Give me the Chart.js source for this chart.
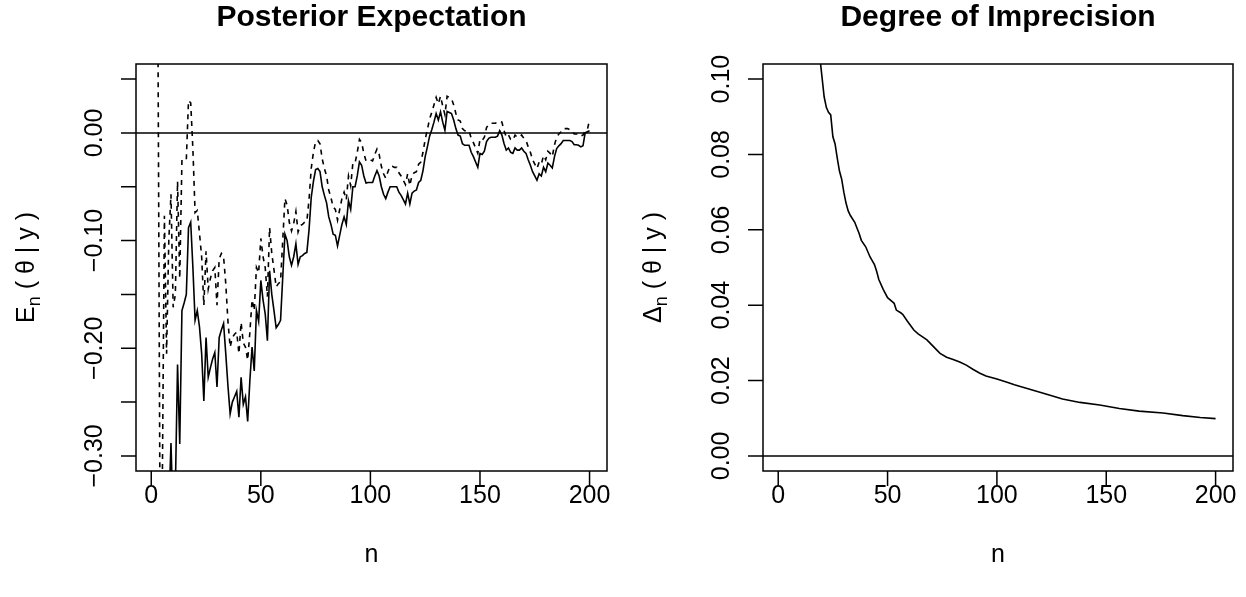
<!DOCTYPE html>
<html>
<head>
<meta charset="utf-8">
<script src="https://cdn.jsdelivr.net/npm/chart.js@4.4.0/dist/chart.umd.min.js"></script>
<style>
  html, body { margin: 0; padding: 0; background: #fff; }
  canvas { position: absolute; top: 0; }
  #c1 { left: 0; }
  #c2 { left: 623px; }
</style>
</head>
<body>
<canvas id="c1" width="623" height="597"></canvas>
<canvas id="c2" width="623" height="597"></canvas>
<script>
// ---- data ----
// left panel: lower (solid) and upper (dashed) posterior expectation, n = 1..200
const lowerE = [
  -0.95, -0.85, -0.78, -0.86, -0.74, -0.41, -0.49, -0.35, -0.288, -0.36,
  -0.33, -0.215, -0.289, -0.165, -0.158, -0.150, -0.088, -0.083, -0.125, -0.174,
  -0.165, -0.180, -0.205, -0.249, -0.190, -0.227, -0.218, -0.210, -0.204, -0.236,
  -0.190, -0.183, -0.177, -0.205, -0.235, -0.261, -0.250, -0.245, -0.240, -0.264,
  -0.227, -0.252, -0.245, -0.268, -0.230, -0.199, -0.221, -0.165, -0.175, -0.137,
  -0.155, -0.168, -0.193, -0.128, -0.150, -0.165, -0.181, -0.178, -0.174, -0.134,
  -0.094, -0.100, -0.115, -0.123, -0.115, -0.103, -0.122, -0.115, -0.114, -0.112,
  -0.111, -0.090, -0.060, -0.045, -0.034, -0.033, -0.036, -0.050, -0.058, -0.065,
  -0.078, -0.085, -0.094, -0.095, -0.105, -0.095, -0.085, -0.078, -0.085, -0.063,
  -0.071, -0.050, -0.050, -0.040, -0.027, -0.030, -0.040, -0.0465, -0.046, -0.046,
  -0.046, -0.040, -0.035, -0.040, -0.050, -0.057, -0.061, -0.055, -0.050, -0.050,
  -0.050, -0.050, -0.055, -0.058, -0.062, -0.066, -0.056, -0.066, -0.056, -0.054,
  -0.053, -0.046, -0.044, -0.035, -0.022, -0.013, -0.003, 0.003, 0.010, 0.018,
  0.012, 0.0196, 0.010, 0.0025, 0.020, 0.019, 0.018, 0.012, 0.004, -0.002,
  -0.003, -0.010, -0.0115, -0.0115, -0.0115, -0.018, -0.022, -0.027, -0.032, -0.019,
  -0.020, -0.017, -0.008, -0.005, -0.004, -0.004, -0.004, -0.003, 0.002, -0.002,
  -0.010, -0.016, -0.014, -0.018, -0.019, -0.014, -0.016, -0.016, -0.014, -0.017,
  -0.019, -0.025, -0.030, -0.036, -0.040, -0.044, -0.038, -0.040, -0.032, -0.036,
  -0.028, -0.030, -0.0325, -0.022, -0.0145, -0.012, -0.010, -0.007, -0.007, -0.007,
  -0.007, -0.008, -0.011, -0.011, -0.0115, -0.013, -0.012, 0.000, 0.001, 0.002
];
const upperE = [
  0.40, 0.30, 0.12, -0.36, -0.34, -0.077, -0.205, -0.10, -0.057, -0.162,
  -0.15, -0.045, -0.135, -0.025, -0.025, -0.025, 0.030, 0.028, -0.015, -0.074,
  -0.072, -0.093, -0.115, -0.160, -0.110, -0.145, -0.135, -0.128, -0.125, -0.160,
  -0.117, -0.112, -0.115, -0.140, -0.175, -0.199, -0.190, -0.187, -0.185, -0.205,
  -0.176, -0.195, -0.199, -0.211, -0.185, -0.155, -0.165, -0.125, -0.130, -0.098,
  -0.115, -0.125, -0.152, -0.088, -0.112, -0.127, -0.143, -0.140, -0.138, -0.100,
  -0.061, -0.067, -0.083, -0.091, -0.084, -0.073, -0.092, -0.086, -0.085, -0.083,
  -0.082, -0.062, -0.033, -0.018, -0.008, -0.007, -0.010, -0.024, -0.033, -0.040,
  -0.053, -0.060, -0.069, -0.071, -0.081, -0.071, -0.061, -0.055, -0.062, -0.040,
  -0.049, -0.028, -0.028, -0.018, -0.006, -0.009, -0.019, -0.026, -0.025, -0.025,
  -0.026, -0.020, -0.015, -0.020, -0.031, -0.038, -0.042, -0.036, -0.031, -0.031,
  -0.032, -0.032, -0.037, -0.040, -0.044, -0.048, -0.038, -0.049, -0.039, -0.037,
  -0.036, -0.029, -0.027, -0.018, -0.006, 0.003, 0.013, 0.019, 0.026, 0.033,
  0.027, 0.034, 0.025, 0.017, 0.034, 0.033, 0.032, 0.026, 0.018, 0.012,
  0.011, 0.004, 0.002, 0.002, 0.002, -0.005, -0.009, -0.014, -0.019, -0.006,
  -0.007, -0.004, 0.005, 0.008, 0.009, 0.009, 0.009, 0.010, 0.011, 0.010,
  0.002, -0.004, -0.002, -0.006, -0.007, -0.002, -0.004, -0.004, -0.002, -0.005,
  -0.007, -0.013, -0.018, -0.025, -0.029, -0.033, -0.027, -0.029, -0.021, -0.025,
  -0.017, -0.019, -0.022, -0.011, -0.004, -0.001, 0.001, 0.004, 0.004, 0.004,
  0.003, 0.002, -0.001, -0.001, -0.001, -0.003, -0.002, 0.002, 0.003, 0.012
];

// right panel: degree of imprecision (sampled along n)
const nDelta = [19, 21, 22, 23, 24, 25, 26, 27, 28, 29, 30, 31, 32, 33, 35, 36, 37, 38, 40, 42,
  44, 45, 46, 48, 50, 52, 53, 54, 56, 57, 59, 62, 64, 66, 68, 70, 72, 74, 77, 80,
  83, 86, 89, 92, 95, 100, 105, 108, 115, 122, 130, 138, 147, 156, 165, 176, 185, 193, 200];
const delta = [0.106, 0.0953, 0.0925, 0.0912, 0.0905, 0.0847, 0.0828, 0.0790, 0.0756, 0.0735,
  0.0700, 0.0671, 0.0650, 0.0638, 0.0620, 0.0605, 0.0590, 0.0572, 0.0555, 0.0528,
  0.0508, 0.0490, 0.0468, 0.0442, 0.0420, 0.0410, 0.0405, 0.0387, 0.0380, 0.0375,
  0.0358, 0.0334, 0.0324, 0.0316, 0.0308, 0.0296, 0.0284, 0.0272, 0.0262, 0.0256,
  0.0249, 0.0241, 0.0230, 0.0220, 0.0212, 0.0204, 0.0195, 0.0189, 0.0177, 0.0165,
  0.0151, 0.0142, 0.0135, 0.0126, 0.0119, 0.0114, 0.0107, 0.0102, 0.0099];

// axis ticks
const xTicks = [0, 50, 100, 150, 200];
const yTicksE = [-0.30, -0.25, -0.20, -0.15, -0.10, -0.05, 0.00, 0.05];
const yLabelsE = { "-0.3": "\u22120.30", "-0.2": "\u22120.20", "-0.1": "\u22120.10", "0": "0.00" };
const yTicksD = [0.00, 0.02, 0.04, 0.06, 0.08, 0.10];
const yLabelsD = ["0.00", "0.02", "0.04", "0.06", "0.08", "0.10"];

const FONT = '"Liberation Sans", Arial, Helvetica, sans-serif';
const FS = 25;
const TICK = 15;

const nIdx = lowerE.map((v, i) => i + 1);
const pts = (xs, ys) => xs.map((x, i) => ({ x: x, y: ys[i] }));

// R style frame, ticks and labels drawn through the chart's scales
const rFrame = {
  id: "rFrame",
  afterDraw(chart, args, o) {
    const ctx = chart.ctx, a = chart.chartArea;
    const xs = chart.scales.x, ys = chart.scales.y;
    ctx.save();
    ctx.strokeStyle = "#000";
    ctx.fillStyle = "#000";
    ctx.lineWidth = 1.5;
    ctx.strokeRect(a.left, a.top, a.right - a.left, a.bottom - a.top);

    ctx.beginPath();
    o.xTicks.forEach((v) => {
      const p = xs.getPixelForValue(v);
      ctx.moveTo(p, a.bottom);
      ctx.lineTo(p, a.bottom + TICK);
    });
    o.yTicks.forEach((v) => {
      const p = ys.getPixelForValue(v);
      ctx.moveTo(a.left, p);
      ctx.lineTo(a.left - TICK, p);
    });
    ctx.stroke();

    ctx.font = FS + "px " + FONT;
    ctx.textAlign = "center";
    ctx.textBaseline = "alphabetic";
    o.xTicks.forEach((v) => {
      ctx.fillText(String(v), xs.getPixelForValue(v), a.bottom + 32);
    });
    o.yTicks.forEach((v, i) => {
      const lab = o.yLabel(v, i);
      if (!lab) return;
      ctx.save();
      ctx.translate(a.left - 34, ys.getPixelForValue(v));
      ctx.rotate(-Math.PI / 2);
      ctx.fillText(lab, 0, 0);
      ctx.restore();
    });

    // x label
    ctx.fillText("n", (a.left + a.right) / 2, a.bottom + 91);

    // title
    ctx.font = "bold " + Math.round(FS * 1.2) + "px " + FONT;
    ctx.fillText(o.title, (a.left + a.right) / 2, 26);

    // y label with subscript
    const cy = (a.top + a.bottom) / 2;
    ctx.save();
    ctx.translate(a.left - 102, cy);
    ctx.rotate(-Math.PI / 2);
    ctx.textAlign = "left";
    ctx.font = FS + "px " + FONT;
    const wMain = ctx.measureText(o.ylabMain).width;
    const rest = " ( \u03b8 | y )";
    const wRest = ctx.measureText(rest).width;
    ctx.font = Math.round(FS * 0.7) + "px " + FONT;
    const wSub = ctx.measureText("n").width;
    let x = -(wMain + wSub + wRest) / 2;
    ctx.font = FS + "px " + FONT;
    ctx.fillText(o.ylabMain, x, 0);
    x += wMain;
    ctx.font = Math.round(FS * 0.7) + "px " + FONT;
    ctx.fillText("n", x, FS * 0.25);
    x += wSub;
    ctx.font = FS + "px " + FONT;
    ctx.fillText(rest, x, 0);
    ctx.restore();

    ctx.restore();
  }
};

const baseOptions = (pad, ymin, ymax, frame) => ({
  responsive: false,
  animation: false,
  devicePixelRatio: 1,
  layout: { padding: pad },
  elements: { point: { radius: 0 }, line: { tension: 0 } },
  scales: {
    x: { type: "linear", min: -6.96, max: 207.96, display: false },
    y: { type: "linear", min: ymin, max: ymax, display: false }
  },
  plugins: {
    legend: { display: false },
    tooltip: { enabled: false },
    rFrame: frame
  }
});

new Chart(document.getElementById("c1").getContext("2d"), {
  type: "line",
  data: {
    datasets: [
      { data: pts(nIdx, lowerE), borderColor: "#000", borderWidth: 1.6, clip: 0 },
      { data: pts(nIdx, upperE), borderColor: "#000", borderWidth: 1.6, borderDash: [5, 5], clip: 0 },
      { data: [{ x: -10, y: 0 }, { x: 220, y: 0 }], borderColor: "#000", borderWidth: 1.5, clip: 0 }
    ]
  },
  options: baseOptions({ left: 136, right: 16, top: 64, bottom: 126 }, -0.314, 0.064, {
    xTicks: xTicks,
    yTicks: yTicksE,
    yLabel: (v) => yLabelsE[String(Math.round(v * 100) / 100)],
    title: "Posterior Expectation",
    ylabMain: "E"
  }),
  plugins: [rFrame]
});

new Chart(document.getElementById("c2").getContext("2d"), {
  type: "line",
  data: {
    datasets: [
      { data: pts(nDelta, delta), borderColor: "#000", borderWidth: 1.6, clip: 0 },
      { data: [{ x: -10, y: 0 }, { x: 220, y: 0 }], borderColor: "#000", borderWidth: 1.5, clip: 0 }
    ]
  },
  options: baseOptions({ left: 140, right: 13, top: 64, bottom: 126 }, -0.004, 0.104, {
    xTicks: xTicks,
    yTicks: yTicksD,
    yLabel: (v, i) => yLabelsD[i],
    title: "Degree of Imprecision",
    ylabMain: "\u0394"
  }),
  plugins: [rFrame]
});
</script>
</body>
</html>
